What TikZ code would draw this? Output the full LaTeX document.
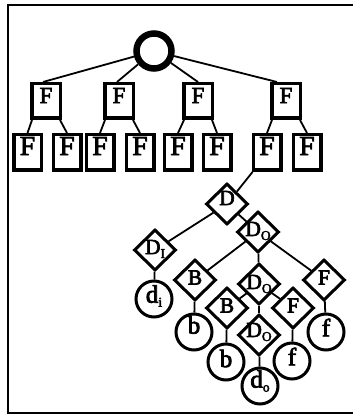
\documentclass[tikz,border=0pt]{standalone}
\usepackage{fontspec}
\setmainfont{Liberation Serif}[FakeBold=3]
\usetikzlibrary{shapes.geometric}
% lowered, reduced subscript used in the node names
\newcommand\lowsub[1]{\raisebox{-4pt}{\fontsize{13.5}{13.5}\selectfont #1}}

\begin{document}
\begin{tikzpicture}[x=1pt,y=1pt,
  rootnode/.style={circle, draw, line width=6.5pt, minimum size=35pt, inner sep=0pt},
  topbox/.style={rectangle, draw, fill=white, line width=3.5pt, minimum width=28.5pt, minimum height=34.5pt, inner sep=0pt,
    label={[font=\fontsize{23}{23}\selectfont, yshift=5.5pt]center:#1}},
  leafbox/.style={rectangle, draw, fill=white, line width=3.5pt, minimum width=27.5pt, minimum height=35.5pt, inner sep=0pt,
    label={[font=\fontsize{27.5}{27.5}\selectfont, yshift=6.5pt]center:#1}},
  dia/.style 2 args={diamond, draw, fill=white, line width=3pt, minimum width=42pt, minimum height=41pt, inner sep=0pt,
    label={[font=\fontsize{21.5}{21.5}\selectfont, yshift=#2]center:#1}},
  ring/.style 2 args={circle, draw, fill=white, line width=3pt, minimum size=36pt, inner sep=0pt,
    label={[font=\fontsize{25}{25}\selectfont, yshift=#2]center:#1}},
  link/.style={line width=1.8pt},
  frame/.style={line width=2pt}
]
\useasboundingbox (0,0) rectangle (353,416);

% frame: top, left and bottom rules
\coordinate (ftr) at (353,411);
\coordinate (ftl) at (8,411);
\coordinate (fbl) at (8,3);
\coordinate (fbr) at (353,3);
\draw[frame] (ftr) -- (ftl) -- (fbl) -- (fbr);

% root
\node[rootnode] (r) at (154,365) {};

% first row of F boxes
\node[topbox=F] (f1) at (46,315) {};
\node[topbox=F] (f2) at (119,315) {};
\node[topbox=F] (f3) at (198,315) {};
\node[topbox=F] (f4) at (286,315) {};

% second row of F boxes
\node[leafbox=F] (g1) at (27.5,263.5) {};
\node[leafbox=F] (g2) at (67,263.5) {};
\node[leafbox=F] (g3) at (100,263.5) {};
\node[leafbox=F] (g4) at (140,263.5) {};
\node[leafbox=F] (g5) at (178,263.5) {};
\node[leafbox=F] (g6) at (217,263.5) {};
\node[leafbox=F] (g7) at (267,263.5) {};
\node[leafbox=F] (g8) at (307,263.5) {};

% diamond lattice
\node[dia={D}{6pt}] (D) at (227,212) {};
\node[dia={D\lowsub{I}}{1pt}] (DI) at (155,166) {};
\node[dia={D\lowsub{O}}{1pt}] (DO) at (258,184) {};
\node[dia={B}{2.5pt}] (B1) at (195,136) {};
\node[dia={D\lowsub{O}}{0pt}] (DO2) at (259,132) {};
\node[dia={F}{2.5pt}] (F1) at (324,136) {};
\node[dia={B}{2.5pt}] (B2) at (227,108) {};
\node[dia={F}{2.5pt}] (F2) at (293,108) {};
\node[dia={D\lowsub{O}}{3pt}] (DO3) at (259,81) {};

% leaves
\node[ring={d\lowsub{i}}{3pt}] (di) at (154,117) {};
\node[ring={b}{7pt}] (b1) at (194,84) {};
\node[ring={f}{4.5pt}] (ff1) at (326,84) {};
\node[ring={b}{3.5pt}] (b2) at (226,54) {};
\node[ring={f}{4.5pt}] (ff2) at (292,55) {};
\node[ring={d\lowsub{o}}{5pt}] (do) at (260,30) {};

% root to first row
\draw[link] (r) -- ([xshift=-3pt]f1.north);
\draw[link] (r) -- ([xshift=-2pt]f2.north);
\draw[link] (r) -- (f3.north);
\draw[link] (r) -- ([xshift=-9pt]f4.north);

% first row to second row
\foreach \p/\a/\b in {f1/g1/g2, f2/g3/g4, f3/g5/g6, f4/g7/g8}{
  \draw[link] ([xshift=2pt]\p.south west) -- (\a.north);
  \draw[link] ([xshift=-2pt]\p.south east) -- (\b.north);
}

% second row into the lattice
\draw[link] ([xshift=1pt]g7.south west) -- (D);

% lattice edges
\draw[link] (D) -- (DI);
\draw[link] (D) -- (DO);
\draw[link] (DI) -- (di);
\draw[link] (DO) -- (B1);
\draw[link] (DO) -- (DO2);
\draw[link] (DO) -- (F1);
\draw[link] (B1) -- (b1);
\draw[link] (F1) -- (ff1);
\draw[link] (DO2) -- (B2);
\draw[link] (DO2) -- (F2);
\draw[link] (DO2) -- (DO3);
\draw[link] (B2) -- (b2);
\draw[link] (F2) -- (ff2);
\draw[link] (DO3) -- (do);
\end{tikzpicture}
\end{document}
